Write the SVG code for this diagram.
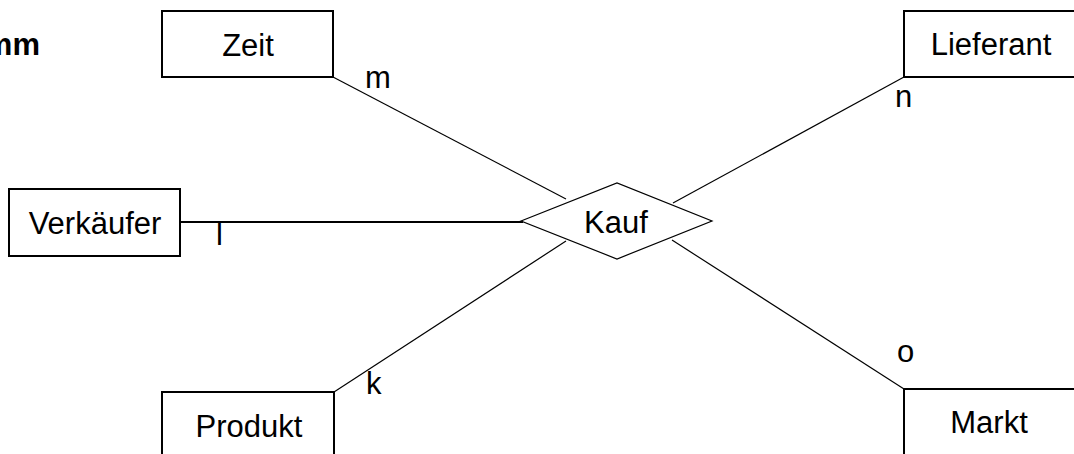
<svg xmlns="http://www.w3.org/2000/svg" width="1074" height="454" viewBox="0 0 1074 454">
<style>
text{font-family:"Liberation Sans",Arial,sans-serif;font-size:31px;fill:#000}
.lbl{text-anchor:middle}
.box{fill:#fff;stroke:#000;stroke-width:2}
.dia{fill:#fff;stroke:#000;stroke-width:1.2}
.con{stroke:#000;stroke-width:1.2;fill:none}
.thick{stroke-width:2.2}
.title{font-weight:bold;text-anchor:end}
</style>
<rect width="1074" height="454" fill="#fff"/>
<text class="title" x="40" y="55">mm</text>
<g id="connectors">
<line class="con" x1="333" y1="77" x2="566" y2="199"/>
<line class="con" x1="904" y1="77" x2="673" y2="203"/>
<line class="con" x1="334" y1="392" x2="566" y2="241"/>
<line class="con" x1="904" y1="389" x2="672" y2="240"/>
<line class="con thick" x1="180" y1="222" x2="523" y2="222"/>
<text x="365" y="88">m</text>
<text x="895" y="107">n</text>
<text x="897" y="362">o</text>
<text x="366" y="394">k</text>
<text x="216" y="245">l</text>
</g>
<g id="zeit">
<rect class="box" x="162" y="11" width="171" height="66"/>
<text class="lbl" x="248" y="56">Zeit</text>
</g>
<g id="lieferant">
<rect class="box" x="904" y="11" width="172" height="66"/>
<text class="lbl" x="991" y="55">Lieferant</text>
</g>
<g id="verkaeufer">
<rect class="box" x="9" y="189" width="171" height="67"/>
<text class="lbl" x="95" y="234">Verkäufer</text>
</g>
<g id="produkt">
<rect class="box" x="162" y="392" width="172" height="66"/>
<text class="lbl" x="249" y="437">Produkt</text>
</g>
<g id="markt">
<rect class="box" x="904" y="389" width="172" height="66"/>
<text class="lbl" x="989" y="433">Markt</text>
</g>
<g id="kauf">
<polygon class="dia" points="521,221 617,183 712,221 617,259"/>
<text class="lbl" x="616" y="233">Kauf</text>
</g>
</svg>
